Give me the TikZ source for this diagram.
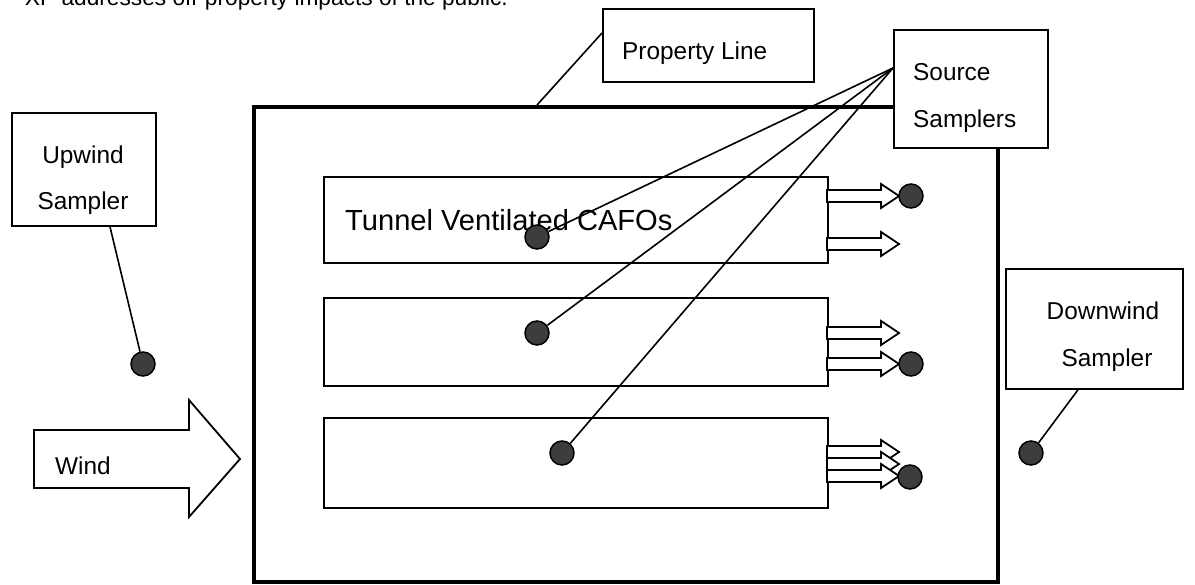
\documentclass[tikz,border=0pt]{standalone}
\usepackage{fontspec}
\setmainfont{Liberation Sans}
\usetikzlibrary{calc}

\begin{document}
\begin{tikzpicture}[x=1pt,y=-1pt,line join=miter,
 box/.style={draw,fill=white,line width=1.8pt,inner sep=0pt,anchor=north west},
 dot/.style={draw,circle,fill=black!76,line width=1.5pt,minimum size=24pt,inner sep=0pt},
 lbl/.style={inner sep=0pt,font=\fontsize{24.4}{29}\selectfont},
 lead/.style={line width=1.6pt},
 vent/.style={draw,fill=white,line width=1.8pt}]
 \clip (0,0) rectangle (1195,585);
 \node[lbl,anchor=base east,font=\fontsize{22.7}{27}\selectfont] (note) at (508,6)
  {XP addresses off-property impacts of the public.};
 % property line and callout boxes
 \node[box,line width=4pt,minimum width=744pt,minimum height=475pt] (site) at (252,105) {};
 \node[box,minimum width=211pt,minimum height=73pt] (pbox) at (602,8) {};
 \node[lbl,anchor=base west] (ptxt) at (622,60) {Property Line};
 \node[box,minimum width=154pt,minimum height=118pt] (sbox) at (893,29) {};
 \node[lbl,anchor=base west] (stxt1) at (913,81) {Source};
 \node[lbl,anchor=base west] (stxt2) at (913,128) {Samplers};
 \node[box,minimum width=144pt,minimum height=113pt] (ubox) at (11,112) {};
 \node[lbl,anchor=base] (utxt1) at (83,164) {Upwind};
 \node[lbl,anchor=base] (utxt2) at (83,210) {Sampler};
 \node[box,minimum width=177pt,minimum height=120pt] (dbox) at (1005,268) {};
 \node[lbl,anchor=base] (dtxt1) at (1103,320) {Downwind};
 \node[lbl,anchor=base] (dtxt2) at (1107,367) {Sampler};
 % barns
 \foreach \n/\y/\h in {1/176/86,2/297/88,3/417/90}
  \node[box,minimum width=504pt,minimum height=\h pt] (barn\n) at (323,\y) {};
 \node[lbl,anchor=base west,font=\fontsize{29.1}{35}\selectfont] (btxt) at (345,231) {Tunnel Ventilated CAFOs};
 % exhaust fans
 \foreach \y in {196,244,333,364,452,464,476}
  \draw[vent] (827,\y-6)--(881,\y-6)--(881,\y-12)--(899,\y)--(881,\y+12)--(881,\y+6)--(827,\y+6)--cycle;
 % wind
 \draw[vent] (34,430)--(189,430)--(189,400)--(240,459)--(189,517)--(189,488)--(34,488)--cycle;
 \node[lbl,anchor=base west] (wtxt) at (55,475) {Wind};
 % samplers
 \foreach \n/\x/\y in {1/537/237,2/537/333,3/562/453}
  \node[dot] (in\n) at (\x,\y) {};
 \foreach \n/\x/\y in {1/911/196,2/911/364,3/910/477}
  \node[dot] (out\n) at (\x,\y) {};
 \node[dot] (udot) at (143,364) {};
 \node[dot] (ddot) at (1031,453) {};
 % leaders
 \coordinate (edge) at (537,105);
 \draw[lead] (edge)--($(pbox.north west)+(0,25)$);
 \draw[lead] ($(ubox.south west)+(99,0)$)--(udot);
 \draw[lead] ($(dbox.south west)+(73,0)$)--(ddot);
 \foreach \n in {1,2,3}
  \draw[lead] ($(sbox.north west)+(0,39)$)--(in\n);
\end{tikzpicture}
\end{document}
